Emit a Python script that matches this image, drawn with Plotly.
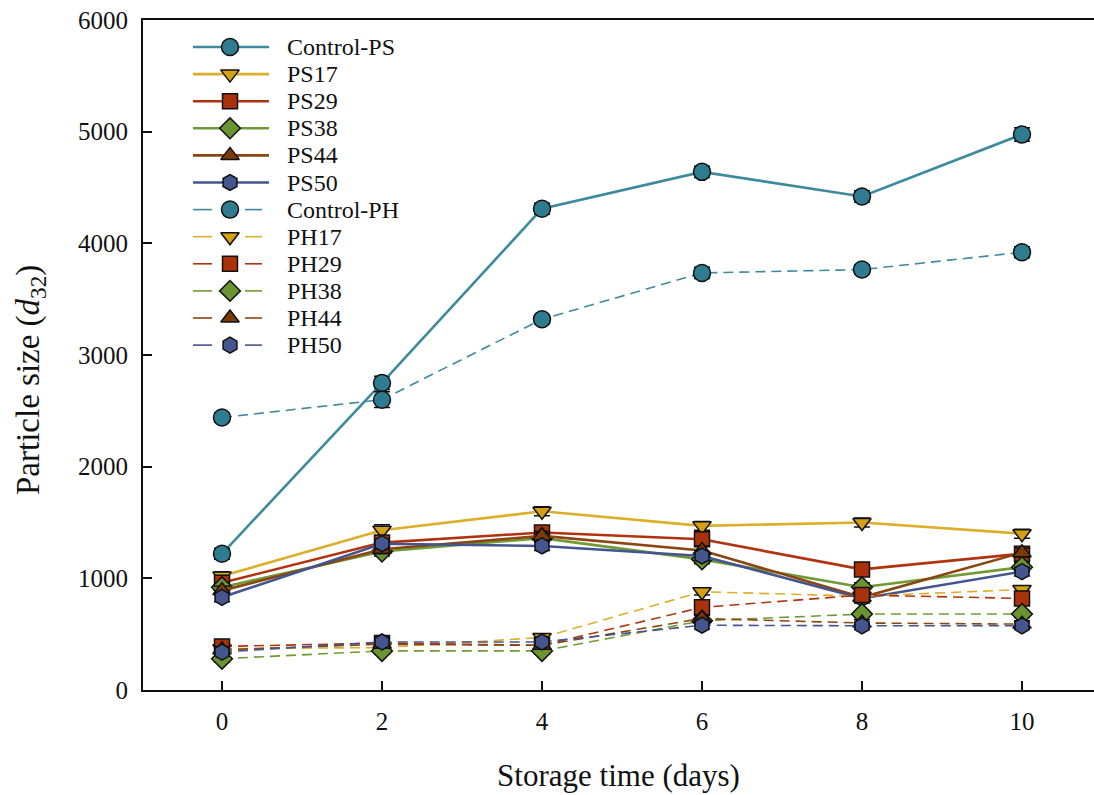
import plotly.graph_objects as go

# Storage time (days)
days = [0, 2, 4, 6, 8, 10]

# Mean particle size d32 and its standard deviation for each sample
series_names = ["Control-PS", "PS17", "PS29", "PS38", "PS44", "PS50",
                "Control-PH", "PH17", "PH29", "PH38", "PH44", "PH50"]

control_ps = [1220, 2750, 4310, 4640, 4420, 4975]
ps17 = [1020, 1430, 1600, 1470, 1500, 1400]
ps29 = [960, 1320, 1410, 1350, 1080, 1220]
ps38 = [920, 1240, 1360, 1170, 920, 1100]
ps44 = [890, 1260, 1380, 1250, 830, 1230]
ps50 = [830, 1310, 1290, 1200, 820, 1060]

control_ph = [2440, 2600, 3320, 3735, 3765, 3920]
ph17 = [370, 380, 470, 880, 840, 900]
ph29 = [390, 420, 400, 740, 850, 820]
ph38 = [280, 350, 350, 620, 680, 680]
ph44 = [360, 410, 400, 640, 600, 590]
ph50 = [340, 430, 430, 580, 575, 575]

sd_control_ps = [50, 60, 50, 50, 50, 60]
sd_control_ph = [40, 70, 40, 50, 40, 50]
sd_ps17 = [40, 50, 40, 40, 40, 40]
sd_ps29 = [40, 40, 40, 40, 40, 40]
sd_ps38 = [40, 40, 40, 40, 40, 40]
sd_ps44 = [40, 40, 40, 40, 40, 40]
sd_ps50 = [40, 40, 40, 40, 40, 40]
sd_ph17 = [30, 30, 30, 30, 30, 30]
sd_ph29 = [30, 30, 30, 30, 30, 30]
sd_ph38 = [30, 30, 30, 30, 30, 30]
sd_ph44 = [30, 30, 30, 30, 30, 30]
sd_ph50 = [30, 30, 30, 30, 30, 30]

values = [control_ps, ps17, ps29, ps38, ps44, ps50,
          control_ph, ph17, ph29, ph38, ph44, ph50]
errors = [sd_control_ps, sd_ps17, sd_ps29, sd_ps38, sd_ps44, sd_ps50,
          sd_control_ph, sd_ph17, sd_ph29, sd_ph38, sd_ph44, sd_ph50]

# Colour pairs: (line, marker fill)
palette = [
    ("#3d8a9e", "#2f7c91"),
    ("#dcae2a", "#d4a116"),
    ("#b0330f", "#aa320a"),
    ("#6f9a35", "#6a9430"),
    ("#8a4511", "#7c3a08"),
    ("#44548f", "#45568f"),
]
symbols = ["circle", "triangle-down", "square", "diamond", "triangle-up", "hexagon"]
MARKER_EDGE = dict(color="#111111", width=1.5)


def marker_size(k):
    return 17 if k == 0 else (15 if k == 2 else 16)


def line_style(k, dashed):
    col = palette[k][0]
    if dashed:
        return dict(color=col, width=1.6, dash="10px,6px")
    return dict(color=col, width=2.6)


fig = go.Figure()
for i, (name, y, err) in enumerate(zip(series_names, values, errors)):
    k = i % 6
    dashed = i >= 6
    fig.add_trace(go.Scatter(
        x=days, y=y, name=name, mode="lines+markers", showlegend=False,
        line=line_style(k, dashed),
        marker=dict(symbol=symbols[k], size=marker_size(k),
                    color=palette[k][1], line=MARKER_EDGE),
        error_y=dict(type="data", array=err, visible=True,
                     color="#111111", thickness=1.5, width=8),
    ))

# Key drawn on a pixel-unit overlay so that the rows sit tightly together
W, H = 1094, 795
ML, MR, MT, MB = 143, 0, 20, 105
key_top, key_step = 47, 27.1
key_x0, key_xm, key_x1, key_text = 193, 230, 269, 287
for i, name in enumerate(series_names):
    k = i % 6
    dashed = i >= 6
    yk = key_top + key_step * i
    if dashed:
        segs = [(key_x0, 212), (245, 262)]
        lw = 1.6
    else:
        segs = [(key_x0, key_x1)]
        lw = 2.6
    for a, b in segs:
        fig.add_trace(go.Scatter(
            x=[a, b], y=[yk, yk], mode="lines", xaxis="x2", yaxis="y2",
            showlegend=False, hoverinfo="skip",
            line=dict(color=palette[k][0], width=lw)))
    fig.add_trace(go.Scatter(
        x=[key_xm], y=[yk], mode="markers", xaxis="x2", yaxis="y2",
        showlegend=False, hoverinfo="skip",
        marker=dict(symbol=symbols[k], size=marker_size(k),
                    color=palette[k][1], line=MARKER_EDGE)))
    fig.add_annotation(x=key_text - 2, y=yk, xref="x2", yref="y2", text=name,
                       showarrow=False, xanchor="left", yanchor="middle",
                       font=dict(size=24, family="Liberation Serif", color="#111111"))

# Vertical axis title, placed in paper units left of the plot area
title_px_x, title_px_y = 30, 380
fig.add_annotation(x=(title_px_x - ML) / (W - ML - MR),
                   y=(H - MB - title_px_y) / (H - MB - MT),
                   xref="paper", yref="paper",
                   text="Particle size (<i>d</i><sub>32</sub>)", textangle=-90,
                   showarrow=False, xanchor="center", yanchor="middle",
                   font=dict(size=33, family="Liberation Serif", color="#111111"))

fig.update_layout(
    width=W, height=H,
    margin=dict(l=ML, r=MR, t=MT, b=MB),
    paper_bgcolor="white", plot_bgcolor="white",
    font=dict(family="Liberation Serif", color="#111111"),
    showlegend=False,
    xaxis=dict(
        range=[-0.9875, 10.9], tickvals=days,
        ticks="inside", ticklen=9, tickwidth=1.5, tickcolor="#111111",
        showline=True, linewidth=2, linecolor="#111111", mirror=True,
        showgrid=False, zeroline=False,
        tickfont=dict(size=25, family="Liberation Serif"),
        ticklabelstandoff=8,
        title=dict(text="Storage time (days)", standoff=30,
                   font=dict(size=31, family="Liberation Serif")),
    ),
    yaxis=dict(
        range=[0, 6000], tickvals=[0, 1000, 2000, 3000, 4000, 5000, 6000],
        ticks="inside", ticklen=9, tickwidth=1.5, tickcolor="#111111",
        showline=True, linewidth=2, linecolor="#111111",
        showgrid=False, zeroline=False,
        tickfont=dict(size=25, family="Liberation Serif"),
        ticklabelstandoff=8,
    ),
    xaxis2=dict(range=[ML, W - MR], overlaying="x", visible=False,
                fixedrange=True),
    yaxis2=dict(range=[H - MB, MT], overlaying="y", visible=False,
                fixedrange=True),
)

fig.write_html("out.html")
